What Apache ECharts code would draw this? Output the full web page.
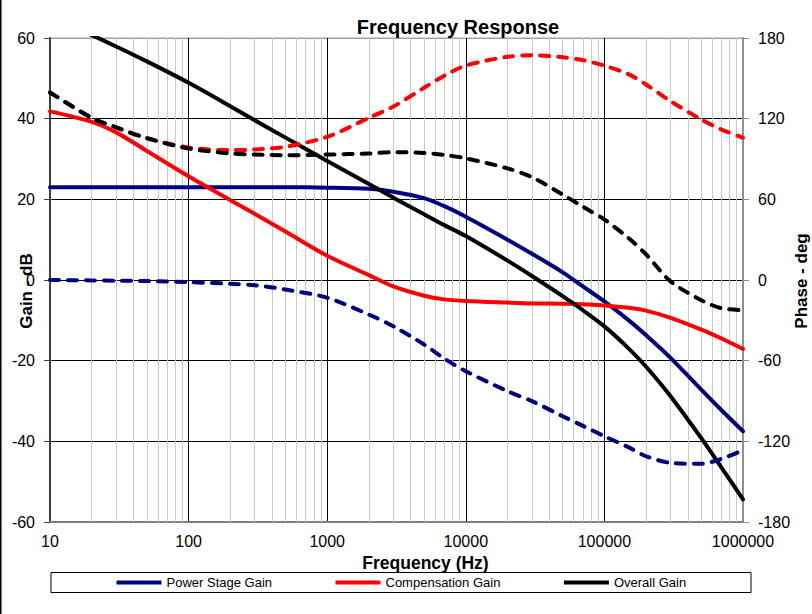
<!DOCTYPE html>
<html><head><meta charset="utf-8">
<script src="https://cdn.jsdelivr.net/npm/echarts@6/dist/echarts.min.js"></script>
<style>html,body{margin:0;padding:0;background:#fff;}#c{width:812px;height:614px;}</style>
</head><body><div id="c"></div>
<script>
// Frequencies (Hz) at which the curves were read
const freqs = [10,20,30,50,100,200,300,500,1000,2000,3000,5000,7000,10000,20000,30000,50000,70000,100000,150000,200000,300000,500000,700000,1000000];
// Gains (dB, left axis)
const powerStageGain   = [23.0,23.0,23.0,23.0,23.0,23.0,23.0,23.0,22.9,22.6,21.9,20.3,18.3,15.7,10.0,6.5,1.9,-1.6,-5.3,-10.0,-13.7,-19.3,-27.2,-32.3,-37.5];
const compensationGain = [41.8,39.2,36.6,32.0,25.7,19.8,16.4,12.0,6.0,1.2,-1.6,-3.9,-4.8,-5.2,-5.6,-5.8,-5.9,-6.0,-6.3,-6.9,-7.6,-9.4,-12.3,-14.5,-17.1];
const overallGain      = [65.2,60.7,57.9,54.2,48.9,43.1,39.6,35.3,29.5,23.8,20.4,16.3,13.6,10.9,4.8,1.0,-4.0,-7.5,-11.5,-17.0,-21.5,-28.8,-39.2,-46.5,-54.4];
// Phases (deg, right axis)
const powerStagePhase   = [0,-0.3,-0.5,-0.8,-1.6,-2.8,-3.9,-7.1,-13.2,-25.7,-34.4,-48.0,-58.5,-67.8,-82.7,-90.1,-101.3,-108.5,-116.2,-124.5,-131.1,-136.0,-136.7,-133.0,-126.6];
const compensationPhase = [139.5,120.6,113.5,105.5,98.5,96.6,97.1,99.1,106.5,120.6,129.0,143.0,152.0,159.5,166.0,167.2,165.7,163.5,159.5,153.0,145.4,133.0,119.4,111.9,105.8];
const overallPhase      = [139.5,120.6,113.5,105.5,97.8,94.1,93.3,92.8,93.3,94.1,95.1,94.5,93.0,90.5,83.0,76.5,63.5,54.5,45.0,31.0,19.0,-1.0,-15.0,-21.0,-22.5];
// Axis ticks
const xTickLabels = ['10','100','1000','10000','100000','1000000'];
const leftTicks = [-60,-40,-20,0,20,40,60];
const rightTicks = [-180,-120,-60,0,60,120,180];
// Minor (grey) vertical gridlines
const minorFreqs = [20,30,40,50,60,70,80,90,200,300,400,500,600,700,800,900,
  2000,3000,4000,5000,6000,7000,8000,9000,20000,30000,40000,50000,60000,70000,80000,90000,
  200000,300000,400000,500000,600000,700000,800000,900000];

const FONT = 'Liberation Sans, Arial, sans-serif';
const pairs = (vals) => freqs.map((f, i) => [f, vals[i]]);

const chart = echarts.init(document.getElementById('c'), null, {renderer: 'svg'});

const solid = (name, color, vals) => ({
  name, type: 'line', xAxisIndex: 0, yAxisIndex: 0, z: 3,
  data: pairs(vals), smooth: 0.3, showSymbol: false, symbol: 'none',
  lineStyle: {color, width: 4, cap: 'round', join: 'round'},
  itemStyle: {color}
});
const dashed = (name, color, vals) => ({
  name, type: 'line', xAxisIndex: 0, yAxisIndex: 1, z: 3,
  data: pairs(vals), smooth: 0.3, showSymbol: false, symbol: 'none',
  lineStyle: {color, width: 4, type: [9, 9], cap: 'round', join: 'round'},
  itemStyle: {color}
});

chart.setOption({
  animation: false,
  textStyle: {fontFamily: FONT},
  title: [{
    text: 'Frequency Response', left: 453, top: 12, textAlign: 'center',
    textStyle: {fontSize: 20, fontWeight: 'bold', color: '#000', fontFamily: FONT}
  }],
  grid: {left: 50, right: 69, top: 38, bottom: 92, show: true, borderColor: '#a0a0a0', borderWidth: 1, backgroundColor: 'transparent'},
  legend: {
    data: ['Power Stage Gain', 'Compensation Gain', 'Overall Gain'],
    left: 116.5, top: 576, padding: 0, icon: 'rect', itemWidth: 45, itemHeight: 4, itemGap: 63.5,
    textStyle: {fontSize: 13, color: '#000', fontFamily: FONT}
  },
  xAxis: {
    type: 'log', logBase: 10, min: 10, max: 1000000,
    axisLine: {show: true, onZero: false, lineStyle: {color: '#808080', width: 2}},
    axisTick: {show: false},
    axisLabel: {fontSize: 16, color: '#000', margin: 11, fontFamily: FONT,
      formatter: (v) => xTickLabels[Math.round(Math.log10(v)) - 1]},
    splitLine: {show: true, lineStyle: {color: ['#404040','#000','#000','#000','#000','#909090'], width: 1}}
  },
  yAxis: [{
    type: 'value', min: leftTicks[0], max: leftTicks[leftTicks.length - 1], interval: 20, position: 'left',
    axisLine: {show: true, onZero: false, lineStyle: {color: '#404040', width: 2}},
    axisTick: {show: true, length: 6, lineStyle: {color: '#404040', width: 1}},
    axisLabel: {fontSize: 16, color: '#000', margin: 15, fontFamily: FONT},
    splitLine: {show: true, lineStyle: {color: ['#808080','#000','#000','#000','#000','#000','#a0a0a0'], width: 1}}
  }, {
    type: 'value', min: rightTicks[0], max: rightTicks[rightTicks.length - 1], interval: 60, position: 'right',
    axisLine: {show: true, onZero: false, lineStyle: {color: '#909090', width: 2}},
    axisTick: {show: true, length: 6, lineStyle: {color: '#909090', width: 1}},
    axisLabel: {fontSize: 16, color: '#000', margin: 15, fontFamily: FONT},
    splitLine: {show: false}
  }],
  graphic: [
    {type: 'rect', z: 0, shape: {x: 0, y: 0, width: 1.5, height: 614}, style: {fill: '#000'}},
    {type: 'rect', z: 0, shape: {x: 51, y: 572.5, width: 700, height: 20}, style: {fill: '#fff', stroke: '#000', lineWidth: 1}},
    {type: 'text', x: 425.5, y: 563, style: {text: 'Frequency (Hz)', font: 'bold 17.5px ' + FONT, fill: '#000', align: 'center', verticalAlign: 'middle', textAlign: 'center', textVerticalAlign: 'middle'}},
    {type: 'text', x: 26.5, y: 291, rotation: Math.PI / 2, style: {text: 'Gain - dB', font: 'bold 17px ' + FONT, fill: '#000', align: 'center', verticalAlign: 'middle', textAlign: 'center', textVerticalAlign: 'middle'}},
    {type: 'text', x: 801, y: 281, rotation: Math.PI / 2, style: {text: 'Phase - deg', font: 'bold 17px ' + FONT, fill: '#000', align: 'center', verticalAlign: 'middle', textAlign: 'center', textVerticalAlign: 'middle'}}
  ],
  series: [
    {
      name: 'minor-grid', type: 'line', xAxisIndex: 0, yAxisIndex: 0, data: [], z: 1,
      markLine: {
        silent: true, z: 1, symbol: ['none', 'none'], label: {show: false},
        lineStyle: {color: '#c8c8c8', width: 1, type: 'solid'},
        emphasis: {disabled: true},
        data: minorFreqs.map(f => ({xAxis: f}))
      }
    },
    solid('Power Stage Gain', '#000080', powerStageGain),
    solid('Compensation Gain', '#ff0000', compensationGain),
    solid('Overall Gain', '#000000', overallGain),
    dashed('Power Stage Phase', '#000080', powerStagePhase),
    dashed('Compensation Phase', '#ff0000', compensationPhase),
    dashed('Overall Phase', '#000000', overallPhase)
  ]
});
</script>
</body></html>
